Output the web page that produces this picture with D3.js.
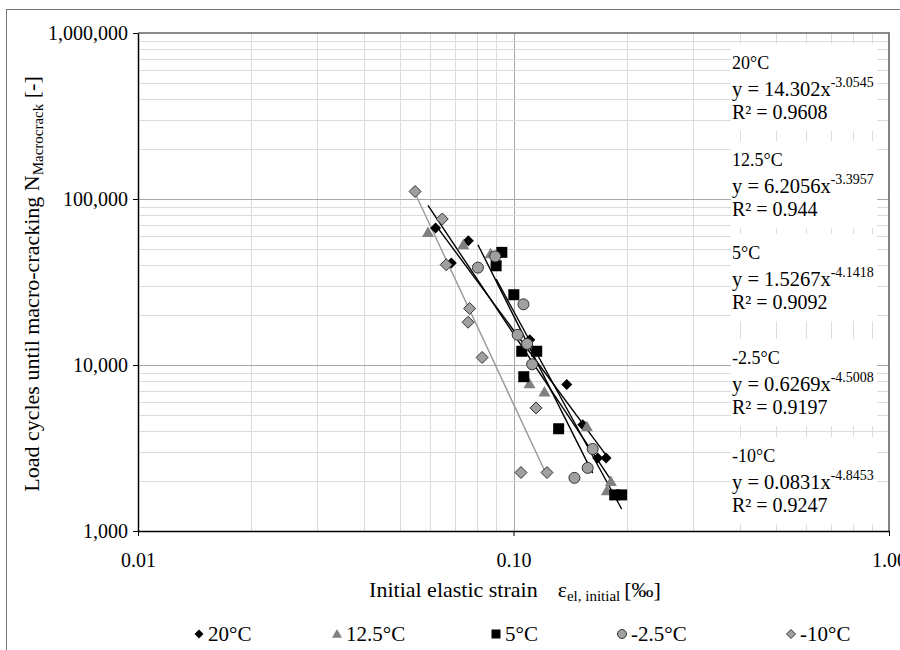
<!DOCTYPE html>
<html><head><meta charset="utf-8">
<script src="https://cdn.jsdelivr.net/npm/d3@7"></script>
<style>body{margin:0;background:#fff}svg{display:block}text{font-family:"Liberation Serif","Times New Roman",serif;fill:#000}</style>
</head><body><svg id="c" width="900" height="650"></svg>
<script>
// ---------------- data ----------------
const seriesNames = ["20°C", "12.5°C", "5°C", "-2.5°C", "-10°C"];
const x20 = [0.0620, 0.0758, 0.0683, 0.1105, 0.1386, 0.1529, 0.1676, 0.1764];
const y20 = [66900, 56100, 41200, 14200, 7640, 4370, 2750, 2750];
const x125 = [0.0592, 0.0735, 0.0869, 0.1103, 0.1209, 0.1569, 0.1817, 0.1773];
const y125 = [62900, 53000, 46800, 7720, 6880, 4250, 1990, 1750];
const x5 = [0.0931, 0.0899, 0.1002, 0.1052, 0.1153, 0.1065, 0.1319, 0.1860, 0.1941];
const y5 = [47700, 39600, 26500, 12100, 12100, 8500, 4130, 1650, 1650];
const xm25 = [0.0894, 0.0804, 0.1063, 0.1026, 0.1087, 0.1121, 0.1625, 0.1576, 0.1453];
const ym25 = [45100, 38600, 23200, 15200, 13400, 10100, 3120, 2400, 2090];
const xm10 = [0.0547, 0.0646, 0.0662, 0.0764, 0.0757, 0.0825, 0.1148, 0.1047, 0.1228];
const ym10 = [111000, 75800, 40200, 21900, 18100, 11100, 5510, 2250, 2250];
const fitA = [14.302, 6.2056, 1.5267, 0.6269, 0.0831];
const fitB = [-3.0545, -3.3957, -4.1418, -4.5008, -4.8453];
const fitR2 = ["0.9608", "0.944", "0.9092", "0.9197", "0.9247"];
const xTickValues = [0.01, 0.1, 1];
const xTickLabels = ["0.01", "0.10", "1.00"];
const yTickValues = [1000, 10000, 100000, 1000000];
const yTickLabels = ["1,000", "10,000", "100,000", "1,000,000"];
const xTitle = ["Initial elastic strain", "ε", "el, initial", "[‰]"];
const yTitle = ["Load cycles until macro-cracking N", "Macrocrack", " [-]"];

// ---------------- layout ----------------
const svg = d3.select("#c");
const L = 138, R = 889, T = 33, B = 531;
const x = d3.scaleLog().domain([0.01, 1]).range([L, R]);
const y = d3.scaleLog().domain([1000, 1000000]).range([B, T]);

const xsAll = [x20, x125, x5, xm25, xm10];
const ysAll = [y20, y125, y5, ym25, ym10];

const styles = [
  {shape: "diamond", fill: "#000", stroke: "none", r: 5.5, line: "#000"},
  {shape: "triangle", fill: "#808080", stroke: "none", r: 6, line: "#000"},
  {shape: "square", fill: "#000", stroke: "none", r: 5.5, line: "#000"},
  {shape: "circle", fill: "#a0a0a0", stroke: "#333", r: 5.5, line: "#000"},
  {shape: "diamond", fill: "#a0a0a0", stroke: "#333", r: 6, line: "#999"}
];
function shapePath(s, r) {
  if (s === "diamond") return `M0,${-r}L${r},0L0,${r}L${-r},0Z`;
  if (s === "square") return `M${-r},${-r}H${r}V${r}H${-r}Z`;
  if (s === "triangle") return `M0,${-r}L${r},${r*0.75}L${-r},${r*0.75}Z`;
  const p = d3.path(); p.arc(0, 0, r, 0, 2 * Math.PI); p.closePath(); return p.toString();
}

// outer border
svg.append("rect").attr("x", 6.5).attr("y", 9.5).attr("width", 1000).attr("height", 1000)
  .attr("fill", "#fff").attr("stroke", "#777").attr("stroke-width", 1);

// gridlines
const gx = x.ticks(), gy = y.ticks();
const isMajor = d => Math.abs(Math.log10(d) - Math.round(Math.log10(d))) < 1e-9;
const grid = svg.append("g");
grid.selectAll("line.vx").data(gx.filter(v => v > 0.01 && v < 1)).join("line")
  .attr("x1", d => Math.round(x(d)) + 0.5).attr("x2", d => Math.round(x(d)) + 0.5)
  .attr("y1", T).attr("y2", B)
  .attr("stroke", d => isMajor(d) ? "#a8a8a8" : "#dcdcdc").attr("stroke-width", 1);
grid.selectAll("line.hy").data(gy.filter(v => v > 1000 && v < 1000000)).join("line")
  .attr("y1", d => Math.round(y(d)) + 0.5).attr("y2", d => Math.round(y(d)) + 0.5)
  .attr("x1", L).attr("x2", R)
  .attr("stroke", d => isMajor(d) ? "#a8a8a8" : "#dcdcdc").attr("stroke-width", 1);

// annotation backgrounds
const annY = [63, 160, 253, 358, 456];
svg.append("g").selectAll("rect").data(annY).join("rect")
  .attr("x", 731).attr("width", 146).attr("y", d => d - 19).attr("height", 87).attr("fill", "#fff");

// plot frame top/right
svg.append("path").attr("d", `M${L},${T}H${R}V${B}`).attr("fill", "none")
  .attr("stroke", "#666").attr("stroke-width", 1.6);

// trendlines
const line = d3.line().x(d => x(d[0])).y(d => y(d[1]));
const tl = svg.append("g");
xsAll.forEach((xs, i) => {
  const [a, b] = d3.extent(xs);
  const pts = [a, b].map(v => [v, fitA[i] * Math.pow(v, fitB[i])]);
  tl.append("path").attr("d", line(pts)).attr("fill", "none")
    .attr("stroke", styles[i].line).attr("stroke-width", 1.4);
});

// points
xsAll.forEach((xs, i) => {
  const st = styles[i];
  svg.append("g").selectAll("path").data(xs.map((v, j) => [v, ysAll[i][j]])).join("path")
    .attr("transform", d => `translate(${x(d[0])},${y(d[1])})`)
    .attr("d", shapePath(st.shape, st.r))
    .attr("fill", st.fill).attr("stroke", st.stroke).attr("stroke-width", 1);
});

// axes
const xAxis = d3.axisBottom(x).tickValues(xTickValues).tickFormat((d, i) => xTickLabels[i])
  .tickSize(5).tickSizeOuter(0).tickPadding(17);
const gxA = svg.append("g").attr("transform", `translate(0,${B})`).call(xAxis);
const yAxis = d3.axisLeft(y).tickValues(yTickValues).tickFormat((d, i) => yTickLabels[i])
  .tickSize(5).tickSizeOuter(0).tickPadding(5);
const gyA = svg.append("g").attr("transform", `translate(${L},0)`).call(yAxis);
[gxA, gyA].forEach(g => {
  g.select(".domain").attr("stroke", "#000").attr("stroke-width", 1.5);
  g.selectAll(".tick line").attr("stroke", "#000");
  g.selectAll(".tick text").attr("font-family", '"Liberation Serif","Times New Roman",serif')
    .attr("font-size", 20).attr("fill", "#000");
});
gyA.selectAll(".tick text").attr("dy", "0.3em");

// x title
const xt = svg.append("text").attr("x", 515).attr("y", 597).attr("text-anchor", "middle")
  .attr("font-size", 22);
xt.append("tspan").text(xTitle[0]);
xt.append("tspan").attr("dx", 20).text(xTitle[1]);
xt.append("tspan").attr("font-size", 15).attr("dy", 4).text(xTitle[2]);
xt.append("tspan").attr("dy", -4).attr("dx", 4).text(xTitle[3]);

// y title
const yt = svg.append("text").attr("transform", "translate(39,284) rotate(-90)")
  .attr("text-anchor", "middle").attr("font-size", 22);
yt.append("tspan").text(yTitle[0]);
yt.append("tspan").attr("font-size", 15).attr("dy", 4).text(yTitle[1]);
yt.append("tspan").attr("dy", -4).text(yTitle[2]);

// annotations
const ann = svg.append("g");
seriesNames.forEach((n, i) => {
  const y0 = annY[i];
  ann.append("text").attr("x", 732).attr("y", y0 + 6).attr("font-size", 18).text(n);
  const e = ann.append("text").attr("x", 732).attr("y", y0 + 33).attr("font-size", 20.5);
  e.append("tspan").text(`y = ${fitA[i]}x`);
  e.append("tspan").attr("font-size", 14).attr("dy", -9).text(`${fitB[i]}`);
  ann.append("text").attr("x", 732).attr("y", y0 + 56).attr("font-size", 20).text(`R² = ${fitR2[i]}`);
});

// legend
const legX = [199, 337, 496, 622, 791];
const lg = svg.append("g");
seriesNames.forEach((n, i) => {
  const st = styles[i];
  lg.append("path").attr("transform", `translate(${legX[i]},634)`)
    .attr("d", shapePath(st.shape, st.shape === "triangle" ? 5 : 4.5))
    .attr("fill", st.fill).attr("stroke", st.stroke).attr("stroke-width", 1);
  lg.append("text").attr("x", legX[i] + 9).attr("y", 641).attr("font-size", 21).text(n);
});
</script></body></html>
